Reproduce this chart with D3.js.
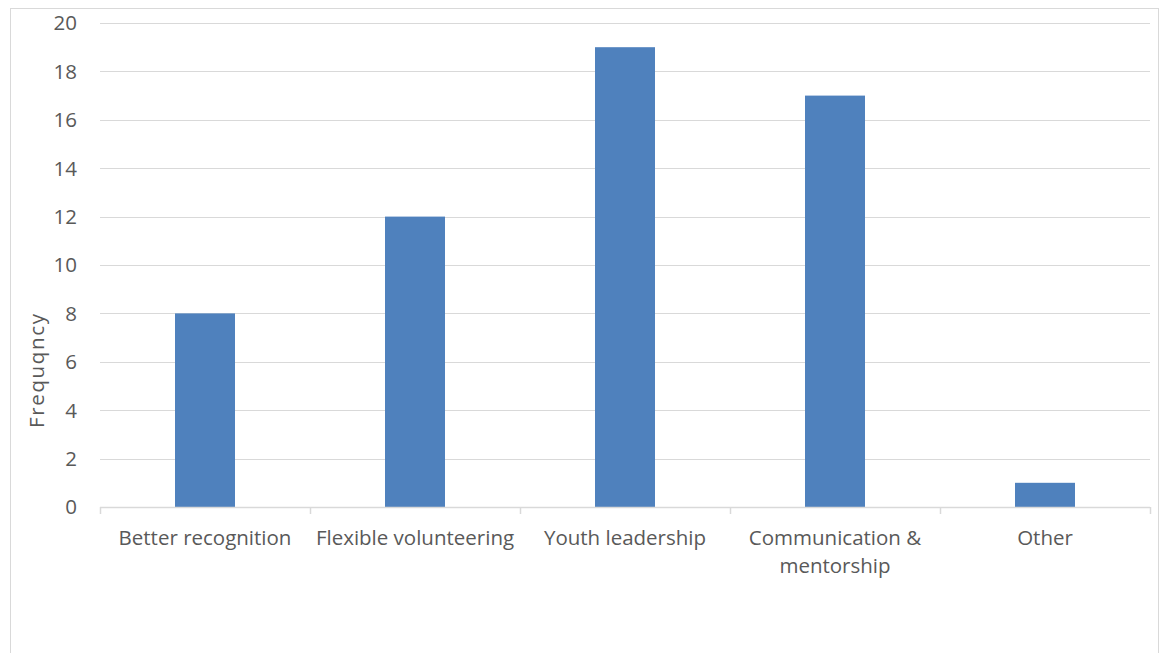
<!DOCTYPE html>
<html>
<head>
<meta charset="utf-8">
<script src="https://cdn.jsdelivr.net/npm/d3@7"></script>
<style>
  html, body { margin: 0; padding: 0; background: #fff; }
  svg { display: block; }
  text { font-family: "Open Sans", Lato, sans-serif; fill: #595959; }
</style>
</head>
<body>
<svg id="chart" width="1165" height="653"></svg>
<script>
const categories = ["Better recognition", "Flexible volunteering", "Youth leadership", "Communication & mentorship", "Other"];
const categoryLines = [["Better recognition"], ["Flexible volunteering"], ["Youth leadership"], ["Communication &", "mentorship"], ["Other"]];
const frequency = [8, 12, 19, 17, 1];
const yTicks = [0, 2, 4, 6, 8, 10, 12, 14, 16, 18, 20];
const yTitle = "Frequqncy";

const svg = d3.select("#chart");
const plot = { left: 100, right: 1150, top: 23, bottom: 507 };
const fontSize = 20.5;

// chart frame
svg.append("rect")
  .attr("x", 10.5).attr("y", 8.5)
  .attr("width", 1148).attr("height", 660)
  .attr("fill", "#fff").attr("stroke", "#d9d9d9").attr("stroke-width", 1);

const x = d3.scaleBand().domain(categories).range([plot.left, plot.right]).paddingInner(0).paddingOuter(0);
const y = d3.scaleLinear().domain([0, 20]).range([plot.bottom, plot.top]);

// horizontal gridlines
svg.append("g").selectAll("line").data(yTicks.filter(d => d > 0)).join("line")
  .attr("x1", plot.left).attr("x2", plot.right)
  .attr("y1", d => Math.round(y(d)) + 0.5).attr("y2", d => Math.round(y(d)) + 0.5)
  .attr("stroke", "#d9d9d9").attr("stroke-width", 1);

// y tick labels
svg.append("g").selectAll("text").data(yTicks).join("text")
  .attr("x", 77).attr("y", d => y(d))
  .attr("dy", "0.36em")
  .attr("text-anchor", "end")
  .attr("font-size", fontSize)
  .text(d => d);

// bars
const barW = 60;
svg.append("g").selectAll("rect").data(frequency).join("rect")
  .attr("x", (d, i) => x(categories[i]) + x.bandwidth() / 2 - barW / 2)
  .attr("y", d => y(d))
  .attr("width", barW)
  .attr("height", d => y(0) - y(d))
  .attr("fill", "#4f81bd");

// category axis line and ticks
const axis = svg.append("g");
axis.append("line")
  .attr("x1", plot.left).attr("x2", plot.right)
  .attr("y1", plot.bottom + 0.5).attr("y2", plot.bottom + 0.5)
  .attr("stroke", "#d9d9d9").attr("stroke-width", 1.5);
const bounds = categories.map(c => x(c)).concat([plot.right]);
axis.selectAll("line.tick").data(bounds).join("line")
  .attr("class", "tick")
  .attr("x1", d => Math.round(d) + 0.5).attr("x2", d => Math.round(d) + 0.5)
  .attr("y1", plot.bottom).attr("y2", plot.bottom + 7)
  .attr("stroke", "#d9d9d9").attr("stroke-width", 1.5);

// category labels
const lbl = svg.append("g").selectAll("text").data(categoryLines).join("text")
  .attr("x", (d, i) => x(categories[i]) + x.bandwidth() / 2)
  .attr("y", 545)
  .attr("text-anchor", "middle")
  .attr("font-size", fontSize);
lbl.selectAll("tspan").data(d => d).join("tspan")
  .attr("x", function () { return this.parentNode.getAttribute("x"); })
  .attr("dy", (d, j) => j === 0 ? 0 : 28)
  .text(d => d);

// y axis title
svg.append("text")
  .attr("transform", "translate(44,371) rotate(-90)")
  .attr("text-anchor", "middle")
  .attr("font-size", fontSize)
  .attr("textLength", 114)
  .attr("lengthAdjust", "spacing")
  .text(yTitle);
</script>
</body>
</html>
